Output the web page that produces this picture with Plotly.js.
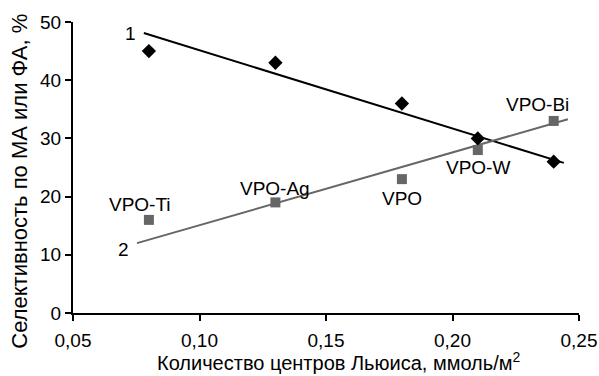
<!DOCTYPE html>
<html><head><meta charset="utf-8">
<script src="https://cdn.plot.ly/plotly-3.0.1.min.js"></script>
<style>html,body{margin:0;padding:0;background:#fff}</style>
</head><body>
<div id="chart" style="width:599px;height:376px"></div>
<script>
// Series 1 (black diamonds)
const x1 = [0.08, 0.13, 0.18, 0.21, 0.24];
const y1 = [45, 43, 36, 30, 26];
// Series 2 (grey squares), catalysts
const x2 = [0.08, 0.13, 0.18, 0.21, 0.24];
const y2 = [16, 19, 23, 28, 33];
const names2 = ['VPO-Ti', 'VPO-Ag', 'VPO', 'VPO-W', 'VPO-Bi'];
// Trend lines
const trend1X = [0.078, 0.244];
const trend1Y = [48.1, 25.8];
const trend2X = [0.0753, 0.2456];
const trend2Y = [12.0, 33.3];
const lineLabels = ['1', '2'];
const xTitle = 'Количество центров Льюиса, ммоль/м<sup>2</sup>';
const yTitle = 'Селективность по МА или ФА, %';

const grey = '#666666';
const font = 'Liberation Sans, Arial, sans-serif';
const fs = 19;

const labelShift = [[-9, 15], [0, 14], [0, -19], [0, -17], [-16, 16]];

const annotations = names2.map((n, i) => ({
  x: x2[i], y: y2[i], xref: 'x', yref: 'y', text: n, showarrow: false,
  xshift: labelShift[i][0], yshift: labelShift[i][1],
  font: {family: font, size: fs, color: '#000'}
}));
annotations.push({x: trend1X[0], y: trend1Y[0], xref: 'x', yref: 'y', text: lineLabels[0],
  showarrow: false, xshift: -13, yshift: 0, font: {family: font, size: fs, color: '#000'}});
annotations.push({x: trend2X[0], y: trend2Y[0], xref: 'x', yref: 'y', text: lineLabels[1],
  showarrow: false, xshift: -14, yshift: -6, font: {family: font, size: fs, color: '#000'}});
annotations.push({x: 0.524, y: -0.165, xref: 'paper', yref: 'paper', text: xTitle,
  showarrow: false, xanchor: 'center', yanchor: 'middle', font: {family: font, size: 20, color: '#000'}});
annotations.push({x: -0.105, y: 0.454, xref: 'paper', yref: 'paper', text: yTitle, textangle: -90,
  showarrow: false, xanchor: 'center', yanchor: 'middle', font: {family: font, size: 22, color: '#000'}});

const traces = [
  {x: trend1X, y: trend1Y, mode: 'lines', line: {color: '#000', width: 2}, hoverinfo: 'skip'},
  {x: trend2X, y: trend2Y, mode: 'lines', line: {color: grey, width: 2}, hoverinfo: 'skip'},
  {x: x1, y: y1, mode: 'markers', marker: {symbol: 'diamond', size: 11, color: '#000'}, cliponaxis: false},
  {x: x2, y: y2, mode: 'markers', marker: {symbol: 'square', size: 10, color: grey}, cliponaxis: false}
];

const layout = {
  width: 599, height: 376,
  margin: {l: 73, r: 20, t: 22, b: 63},
  paper_bgcolor: '#fff', plot_bgcolor: '#fff',
  showlegend: false,
  separators: ', ',
  font: {family: font, size: fs, color: '#000'},
  xaxis: {
    range: [0.05, 0.25], tickvals: [0.05, 0.10, 0.15, 0.20, 0.25], tickformat: '.2f',
    showgrid: false, zeroline: false, showline: true, linecolor: '#000', linewidth: 2,
    ticks: 'outside', ticklen: 6, tickwidth: 2, tickcolor: '#000', ticklabelstandoff: 3,
    tickfont: {family: font, size: fs}
  },
  yaxis: {
    range: [0, 50], tickvals: [0, 10, 20, 30, 40, 50],
    showgrid: false, zeroline: false, showline: true, linecolor: '#000', linewidth: 2,
    ticks: 'outside', ticklen: 6, tickwidth: 2, tickcolor: '#000',
    tickfont: {family: font, size: fs}
  },
  annotations: annotations
};

Plotly.newPlot('chart', traces, layout, {displayModeBar: false, staticPlot: true});
</script>
</body></html>
